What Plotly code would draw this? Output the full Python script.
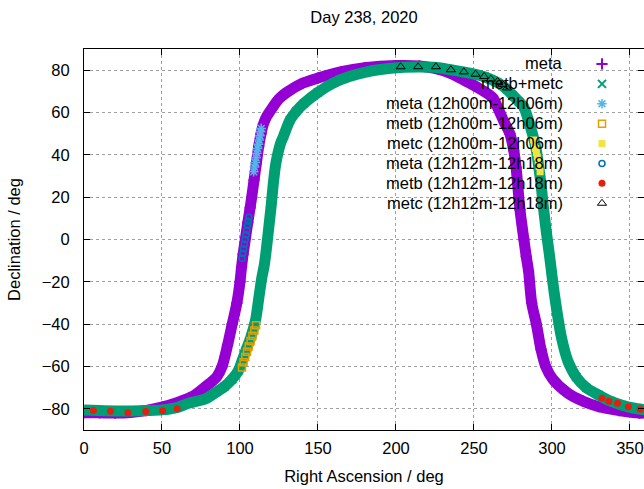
import plotly.graph_objects as go

# ---------------- data ----------------
meta_ra = [0, 10, 20, 30, 40, 50, 60, 70, 78, 85, 88.5, 92, 95, 98, 100, 101, 102, 103.5,
           105, 106.5, 107.5, 109, 110.5, 112, 113.5, 115, 117, 120.5, 125, 130, 140, 150,
           165, 180, 200, 215, 225, 235, 245, 253, 262, 265, 269, 273, 275.5, 277, 279.5,
           282, 283.5, 285, 287, 290, 293, 296, 300.5, 310, 320, 330, 343, 356, 360]
meta_dec = [-81.8, -81.9, -82, -81.7, -80.8, -79.2, -77, -74, -69.5, -65, -60, -50, -40,
            -30, -20, -13, -7, 0.5, 8, 15, 20, 28, 36, 44, 50, 54.5, 58, 62, 66.5, 69.5,
            73.8, 76.3, 79.3, 81.2, 82.2, 82, 80.8, 78.5, 74.7, 71.5, 67, 62.7, 56, 50, 42,
            34, 14, 0, -8, -15, -30, -40, -52, -60, -66, -72.5, -76.4, -79, -80.8, -82, -82]

metbc_ra = [0, 10, 20, 30, 40, 50, 60, 67, 78, 85, 90, 95, 99, 101, 104, 107, 110, 112,
            114, 115.6, 117, 118.5, 120, 121.6, 123, 126, 128, 132, 136, 141, 150, 160, 170,
            180, 190, 203, 215, 226, 235, 244, 251, 257, 261, 265, 268, 271, 275, 279, 282,
            285, 288, 290, 291.5, 293, 294.7, 296.5, 298.5, 300.5, 303, 306, 310, 315.6,
            322, 330, 337, 345, 352, 360]
metbc_dec = [-80.5, -80.8, -81, -81, -80.8, -80.5, -79.3, -77.4, -75.2, -72, -69.5, -66,
             -62, -58, -52, -46, -38, -28, -18, -12, -4, 6, 16, 28, 36, 45.4, 49, 56.4,
             60.5, 64.3, 69.5, 74, 77, 79, 80.3, 81.3, 81.5, 81.3, 80.2, 79, 78, 76.8, 75.6,
             74.2, 72.8, 71, 68, 65, 62.5, 56, 48.5, 42, 34.4, 26, 14, 3, -8, -20, -33, -46,
             -57, -65, -70, -73.5, -76.2, -78.3, -79.6, -80.5]

meta_a_ra = [108.8, 109.3, 109.8, 110.3, 110.8, 111.3, 111.8, 112.3, 112.8, 113.2, 113.6]
meta_a_dec = [32, 34.2, 36.4, 38.6, 40.8, 43, 45, 47, 49, 51, 52.5]

metb_a_ra = [101.3, 102.3, 103.4, 104.5, 105.6, 106.8, 108, 109.2, 110.3]
metb_a_dec = [-60.5, -58, -55.5, -53, -50.5, -48, -45.5, -43, -40.5]

metc_a_ra = [288.2, 288.8, 289.4, 290, 290.6, 291.2, 291.8, 292.4]
metc_a_dec = [47, 45, 43, 41, 39, 37, 34.5, 32]

meta_b_ra = [101.3, 101.8, 102.3, 102.8, 103.3, 103.8, 104.3, 104.8, 105.3, 105.7]
meta_b_dec = [-8.8, -6.6, -4.4, -2.2, 0, 2.2, 4.4, 6.6, 8.6, 10.5]

metb_b_ra = [6, 17, 28.1, 39.6, 50.4, 59.7, 332, 336.5, 342, 349, 356.5]
metb_b_dec = [-80.8, -81.2, -81.9, -81.3, -80.9, -80, -75, -76.4, -77.4, -79, -80.2]

metc_b_ra = [203, 214.2, 225.6, 235.2, 243.5, 251, 256.5, 260.8, 265.1, 268.3, 271.2]
metc_b_dec = [81.6, 81.6, 81.6, 80.2, 79.2, 78.1, 77, 75.8, 74.7, 73.3, 71.6]

legend_labels = ["meta", "metb+metc", "meta (12h00m-12h06m)", "metb (12h00m-12h06m)",
                 "metc (12h00m-12h06m)", "meta (12h12m-12h18m)", "metb (12h12m-12h18m)",
                 "metc (12h12m-12h18m)"]

x_ticks = [0, 50, 100, 150, 200, 250, 300, 350]
y_ticks = [-80, -60, -40, -20, 0, 20, 40, 60, 80]

# ---------------- styling ----------------
FONT = "Liberation Sans, Arial, sans-serif"
FS = 16.5
PURPLE = "#9400d3"
GREEN = "#009e73"
LBLUE = "#56b4e9"
ORANGE = "#e69f00"
YELLOW = "#f0e442"
BLUE = "#0072b2"
RED = "#e51e10"
BLACK = "#000000"

fig = go.Figure()

# bands
fig.add_trace(go.Scatter(x=meta_ra, y=meta_dec, mode="lines",
                         line=dict(color=PURPLE, width=11, shape="spline", smoothing=0.8),
                         showlegend=False, hoverinfo="skip"))
fig.add_trace(go.Scatter(x=meta_ra, y=meta_dec, mode="markers", name="",
                         marker=dict(symbol="cross-thin", size=8, color=PURPLE,
                                     line=dict(color=PURPLE, width=2))))
fig.add_trace(go.Scatter(x=metbc_ra, y=metbc_dec, mode="lines",
                         line=dict(color=GREEN, width=11, shape="spline", smoothing=0.8),
                         showlegend=False, hoverinfo="skip"))
fig.add_trace(go.Scatter(x=metbc_ra, y=metbc_dec, mode="markers", name="",
                         marker=dict(symbol="x-thin", size=8, color=GREEN,
                                     line=dict(color=GREEN, width=2))))

# overlays
fig.add_trace(go.Scatter(x=meta_a_ra, y=meta_a_dec, mode="markers", name="",
                         marker=dict(symbol="asterisk", size=8, color=LBLUE,
                                     line=dict(color=LBLUE, width=1.5))))
fig.add_trace(go.Scatter(x=metb_a_ra, y=metb_a_dec, mode="markers", name="",
                         marker=dict(symbol="square-open", size=7, color=ORANGE,
                                     line=dict(color=ORANGE, width=1.5))))
fig.add_trace(go.Scatter(x=metc_a_ra, y=metc_a_dec, mode="markers", name="",
                         marker=dict(symbol="square", size=7, color=YELLOW,
                                     line=dict(width=0))))
fig.add_trace(go.Scatter(x=meta_b_ra, y=meta_b_dec, mode="markers", name="",
                         marker=dict(symbol="circle-open", size=6, color=BLUE,
                                     line=dict(color=BLUE, width=1.5))))
fig.add_trace(go.Scatter(x=metb_b_ra, y=metb_b_dec, mode="markers", name="",
                         marker=dict(symbol="circle", size=7, color=RED,
                                     line=dict(width=0))))
fig.add_trace(go.Scatter(x=metc_b_ra, y=metc_b_dec, mode="markers", name="",
                         marker=dict(symbol="triangle-up-open", size=8, color=BLACK,
                                     line=dict(color=BLACK, width=1))))

# legend text (right aligned, gnuplot style) — symbols come from the native legend
PLOT_TOP, PLOT_BOTTOM, PLOT_LEFT, PLOT_RIGHT = 49, 430, 84, 644
ph = PLOT_BOTTOM - PLOT_TOP
pw = PLOT_RIGHT - PLOT_LEFT
annotations = []
for i, lab in enumerate(legend_labels):
    ypx = 63.3 + 20 * i
    annotations.append(dict(text=lab, xref="paper", yref="paper",
                            x=(565 - PLOT_LEFT) / pw, y=(PLOT_BOTTOM - ypx) / ph,
                            xanchor="right", yanchor="middle", showarrow=False,
                            font=dict(family=FONT, size=FS, color="#000")))

axis_common = dict(showgrid=True, gridcolor="#a0a0a0", griddash="dot", gridwidth=1,
                   showline=True, linecolor="black", linewidth=1, mirror="allticks",
                   ticks="inside", ticklen=6, tickcolor="black", zeroline=False,
                   tickfont=dict(family=FONT, size=FS, color="#000"))

fig.update_layout(
    width=644, height=489,
    margin=dict(l=PLOT_LEFT, r=0, t=PLOT_TOP, b=489 - PLOT_BOTTOM, autoexpand=False),
    paper_bgcolor="white", plot_bgcolor="white",
    font=dict(family=FONT, size=FS, color="#000"),
    title=dict(text="Day 238, 2020", x=0.5, xref="paper", xanchor="center",
               y=1 - 17 / 489, yref="container", yanchor="middle",
               font=dict(family=FONT, size=FS, color="#000")),
    xaxis=dict(range=[0, 359], tickvals=x_ticks, ticklabelstandoff=3,
               title=dict(text="Right Ascension / deg", standoff=14,
                          font=dict(family=FONT, size=FS, color="#000")),
               **axis_common),
    yaxis=dict(range=[-90, 90], tickvals=y_ticks, ticklabelstandoff=10,
               title=dict(text="Declination / deg", standoff=16,
                          font=dict(family=FONT, size=FS, color="#000")),
               **axis_common),
    showlegend=True,
    legend=dict(x=(602 - 20 - PLOT_LEFT) / pw, xanchor="left", y=1.0, yanchor="top",
                bgcolor="rgba(0,0,0,0)", borderwidth=0, tracegroupgap=0,
                font=dict(family=FONT, size=13, color="#000")),
    annotations=annotations,
)

fig.write_html("out.html", config={"displayModeBar": False},
               post_script="document.body.style.margin='0';document.body.style.overflow='hidden';")
